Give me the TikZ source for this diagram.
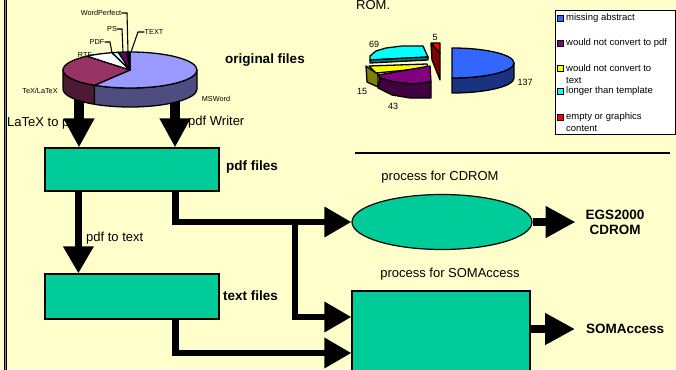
\documentclass[tikz,border=0pt]{standalone}
\usepackage{fontspec}
\setmainfont{Liberation Sans}
\usetikzlibrary{arrows.meta,shapes.geometric}

\definecolor{bgyellow}{HTML}{FFFFCC}
\definecolor{boxgreen}{HTML}{00CC99}
\definecolor{msword}{HTML}{9999FF}
\definecolor{mswordside}{HTML}{4D4D80}
\definecolor{texlatex}{HTML}{993366}
\definecolor{texside}{HTML}{4D1A33}
\definecolor{pdfcyan}{HTML}{CCFFFF}
\definecolor{pspurple}{HTML}{660066}
\definecolor{wpred}{HTML}{FF8080}
\definecolor{textblue}{HTML}{0066CC}
\definecolor{abstractblue}{HTML}{3366FF}
\definecolor{abstractside}{HTML}{1A3380}
\definecolor{pdfpurple}{HTML}{800080}
\definecolor{pdfpurpleside}{HTML}{400040}
\definecolor{textyellow}{HTML}{FFFF00}
\definecolor{textolive}{HTML}{808000}
\definecolor{templcyan}{HTML}{00FFFF}
\definecolor{templteal}{HTML}{008080}
\definecolor{emptyred}{HTML}{FF0000}
\definecolor{emptydark}{HTML}{800000}

\begin{document}
\begin{tikzpicture}[x=1pt, y=-1pt,
    flowbox/.style={draw, line width=1.2pt, fill=boxgreen, inner sep=0pt},
    flowarrow/.style={line width=6.5pt, -{Triangle[length=27pt, width=29pt]}},
    bigarrow/.style={line width=10pt, -{Triangle[length=29pt, width=29pt]}},
    outarrow/.style={line width=8pt, -{Triangle[length=30pt, width=30pt]}},
    slice/.style={draw, line width=1.3pt, line join=round},
    tag/.style={inner sep=0pt, font=\fontsize{13}{15}\selectfont},
    bold/.style={inner sep=0pt, font=\fontsize{13.5}{15}\selectfont\bfseries},
    pietag/.style={inner sep=0pt, font=\fontsize{7.3}{8}\selectfont},
    numtag/.style={inner sep=0pt, font=\fontsize{9}{10}\selectfont},
    leader/.style={line width=1.1pt},
    keybox/.style={draw, line width=0.9pt, minimum size=6pt, inner sep=0pt},
    keytext/.style={anchor=west, inner sep=0pt, align=left, font=\fontsize{9.5}{11.5}\selectfont}]

    \useasboundingbox (0,0) rectangle (676,369);
    \clip (0,0) rectangle (676,369);
    \fill[bgyellow] (0,0) rectangle (676,369);
    \draw[line width=1.3pt, double=gray, double distance=1.2pt] (5.5,-2) -- (5.5,371);

    \node[tag, anchor=base west] (rom) at (356,10) {ROM.};

    % original files pie
    \node[pietag] (wp) at (101,13) {WordPerfect};
    \node[pietag] (ps) at (112,29) {PS};
    \node[pietag] (txt) at (154,32) {TEXT};
    \node[pietag] (pdfl) at (97,42) {PDF};
    \node[pietag] (rtf) at (85,55) {RTF};
    \node[pietag] (tex) at (40,91) {TeX/LaTeX};
    \node[pietag] (word) at (216,99) {MSWord};
    \draw[leader] (wp.east) -- (127,13) -- (128,52);
    \draw[leader] (ps.east) -- (122,29) -- (123,52);
    \draw[leader] (txt.west) -- (138,32) -- (131,52);
    \draw[leader] (pdfl.east) -- (110,42) -- (112,53);
    \draw[leader] (rtf.east) -- (97,55);
    \node[bold] (orig) at (265,60) {original files};

    \node[tag, anchor=west] (latex) at (7,123) {LaTeX to pdf};
    \node[tag, anchor=west] (writer) at (188,122) {pdf Writer};

    \node[flowbox, minimum width=174pt, minimum height=43pt] (pdfbox) at (132,169.5) {};
    \node[flowbox, minimum width=174pt, minimum height=45pt] (textbox) at (132,296.5) {};
    \node[bold, anchor=west] (pdflbl) at (226,167) {pdf files};
    \node[bold, anchor=west] (textlbl) at (223,296) {text files};
    \node[tag, anchor=west] (pdftotext) at (86,238) {pdf to text};

    \coordinate (pieL) at (79,95);
    \coordinate (pieR) at (175,97);
    \draw[bigarrow] (pieL) -- (pieL |- pdfbox.north);
    \draw[bigarrow] (pieR) -- (pieR |- pdfbox.north);

    \begin{scope}[shift={(130,70)}, yscale=-1, x radius=67, y radius=18]
        \draw[slice, fill=texside] (180:67 and 18) arc[start angle=180, end angle=238] -- ++(0,-19) arc[start angle=238, end angle=180] -- cycle;
        \draw[slice, fill=mswordside] (238:67 and 18) arc[start angle=238, end angle=360] -- ++(0,-19) arc[start angle=360, end angle=238] -- cycle;
        \draw[slice, fill=msword] (0,0) -- (90:67 and 18) arc[start angle=90, end angle=-122] -- cycle;
        \draw[slice, fill=texlatex] (0,0) -- (238:67 and 18) arc[start angle=238, end angle=130] -- cycle;
        \draw[slice, fill=white] (0,0) -- (130:67 and 18) arc[start angle=130, end angle=105.6] -- cycle;
        \draw[slice, fill=pdfcyan] (0,0) -- (105.6:67 and 18) arc[start angle=105.6, end angle=100] -- cycle;
        \draw[slice, fill=pspurple] (0,0) -- (100:67 and 18) arc[start angle=100, end angle=92.6] -- cycle;
        \draw[slice, fill=wpred] (0,0) -- (92.6:67 and 18) arc[start angle=92.6, end angle=91.3] -- cycle;
        \draw[slice, fill=textblue] (0,0) -- (91.3:67 and 18) arc[start angle=91.3, end angle=90] -- cycle;
    \end{scope}

    % exploded pie
    \draw[slice, fill=templcyan] (428,57) -- (423,46) -- (402,46) -- (386,48) -- (376,51) -- (370,56) -- (370,60) -- cycle;
    \draw[slice, fill=templteal] (370,60) -- (428,57) -- (428,60) -- (370,63) -- cycle;
    \draw[slice, fill=textyellow] (369,66) -- (427,64) -- (428,68) -- (376,73) -- cycle;
    \draw[slice, fill=textolive] (366,66) -- (376,73) -- (378,74) -- (378,87) -- (367,82) -- cycle;
    \draw[slice, fill=pdfpurple] (378,75) -- (430,66) -- (431,82) -- (412,84) -- (394,82) -- (380,78) -- cycle;
    \draw[slice, fill=pdfpurpleside] (380,78) -- (394,82) -- (412,84) -- (431,82) -- (431,98) -- (410,98) -- (392,95) -- (378,88) -- cycle;
    \draw[slice, fill=emptyred] (431,43) -- (440,43) -- (440,53) -- cycle;
    \draw[slice, fill=emptydark] (431,44) -- (440,53) -- (440,80) -- (432,60) -- cycle;
    \begin{scope}[shift={(452,63)}, yscale=-1, x radius=62, y radius=15]
        \draw[slice, fill=abstractside] (-90:62 and 15) arc[start angle=-90, end angle=0] -- ++(0,-15) arc[start angle=0, end angle=-90] -- cycle;
        \draw[slice, fill=abstractblue] (0,0) -- (90:62 and 15) arc[start angle=90, end angle=-90] -- cycle;
    \end{scope}
    \node[numtag] (n69) at (374,44) {69};
    \node[numtag] (n5) at (435,37) {5};
    \node[numtag] (n15) at (362,91) {15};
    \node[numtag] (n43) at (393,106) {43};
    \node[numtag] (n137) at (525,82) {137};

    % legend
    \draw[line width=1pt, fill=white] (555,11) rectangle (675,134);
    \node[keybox, fill=abstractblue] (k1) at (560,18) {};
    \node[keybox, fill=pdfpurple] (k2) at (560,43) {};
    \node[keybox, fill=textyellow] (k3) at (560,68) {};
    \node[keybox, fill=templcyan] (k4) at (560,91) {};
    \node[keybox, fill=emptyred] (k5) at (560,117) {};
    \node[keytext] (t1) at (566,18) {missing abstract};
    \node[keytext] (t2) at (566,43) {would not convert to pdf};
    \node[keytext] (t3) at (566,74) {would not convert to\\text};
    \node[keytext] (t4) at (566,91) {longer than template};
    \node[keytext] (t5) at (566,122) {empty or graphics\\content};

    \draw[line width=1.3pt] (355,153) -- (670,153);

    % processes
    \node[tag] (cdromlbl) at (440,177) {process for CDROM};
    \node[flowbox, ellipse, minimum width=180pt, minimum height=55pt] (cdrom) at (442,222) {};
    \node[bold, align=center, inner xsep=10pt] (egs) at (615,222) {EGS2000\\CDROM};
    \node[tag] (somalbl) at (450,274) {process for SOMAccess};
    \node[flowbox, minimum width=178pt, minimum height=81pt] (soma) at (441,331.5) {};
    \node[bold, anchor=west, inner xsep=11pt] (somaout) at (575,329) {SOMAccess};

    \draw[flowarrow] ([xshift=34pt]pdfbox.south west) -- ([xshift=34pt]textbox.north west);
    \draw[flowarrow] ([xshift=131pt]pdfbox.south west) |- (cdrom.west);
    \coordinate (split) at (295,222);
    \draw[flowarrow] (split) |- ([yshift=14.5pt]soma.west);
    \draw[flowarrow] ([xshift=131pt]textbox.south west) |- ([yshift=-21.5pt]soma.west);
    \draw[outarrow] (cdrom.east) -- (egs.west);
    \draw[outarrow] (soma.east |- somaout.west) -- (somaout.west);

\end{tikzpicture}
\end{document}
